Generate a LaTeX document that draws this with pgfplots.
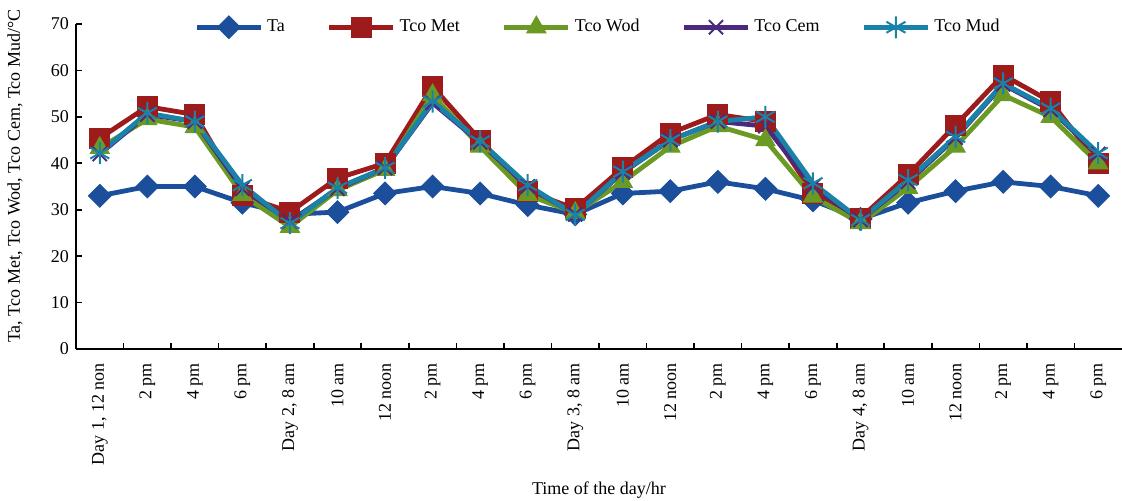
\documentclass[border=0pt]{standalone}
\usepackage{fontspec}
\setmainfont{Liberation Serif}
\usepackage{pgfplots}
\usepackage{pgfplotstable}
\pgfplotsset{compat=1.18}
\definecolor{cTa}{HTML}{1B4F9C}
\definecolor{cMet}{HTML}{9E1B1B}
\definecolor{cWod}{HTML}{6A9A23}
\definecolor{cCem}{HTML}{4A2A7E}
\definecolor{cMud}{HTML}{1A82A8}
\pgfplotstableread{
x Ta Met Wod Cem Mud
0 33 45.4 43.3 42 42.2
1 35 52.2 49.5 50.5 50.8
2 35 50.5 47.8 49 49
3 31.5 33 33.2 34.5 35.3
4 29 29.5 26.3 27.5 27.1
5 29.5 36.8 34.2 34.5 34.7
6 33.5 40 38.6 39 39
7 35 56.5 54.7 53 53.3
8 33.5 45 43.6 44.5 44.7
9 31 34 33.2 35 35.3
10 29 30.2 29.3 29 28.9
11 33.5 39 36 38 38.2
12 34 46.5 43.6 45 45
13 36 50.5 48 49 49
14 34.5 49 45 48 50
15 32 33.6 32.8 35 35.7
16 28 28.2 27.1 27.8 27.8
17 31.5 37.5 34.7 36 36.4
18 34 48.2 43.6 45.5 45.7
19 36 59 54.7 57 57.2
20 35 53.3 50 51.5 51.8
21 33 40 40 42 42.2
}\datatable
\begin{document}
\begin{tikzpicture}[font=\fontsize{9}{10.5}\selectfont]
\begin{axis}[name=ax, at={(0,0)}, anchor=south west,
  scale only axis, width=523pt, height=162.5pt,
  xmin=-0.5, xmax=21.5, ymin=0, ymax=70,
  axis lines=left, axis line style={-, line width=0.8pt, black},
  tick align=inside, major tick length=3pt,
  every tick/.style={black, line width=0.8pt},
  ytick={0,10,...,70},
  /pgf/number format/assume math mode=true,
  xtick={0.5,1.5,...,20.5}, xticklabels={},
  extra x ticks={0,...,21},
  extra x tick labels={Day 1{,} 12 non,2 pm,4 pm,6 pm,Day 2{,} 8 am,10 am,12 noon,2 pm,4 pm,6 pm,Day 3{,} 8 am,10 am,12 noon,2 pm,4 pm,6 pm,Day 4{,} 8 am,10 am,12 noon,2 pm,4 pm,6 pm},
  extra x tick style={major tick length=0pt, xticklabel style={rotate=90, anchor=east, inner sep=0pt, xshift=-7pt}},
  xlabel={Time of the day/hr},
  xlabel style={at={(axis description cs:0.5,-0.434)}, anchor=center},
  ylabel={Ta, Tco Met, Tco Wod, Tco Cem, Tco Mud/°C},
  ylabel style={at={(axis description cs:-0.0583,0.532)}, anchor=center, rotate=0},
  legend columns=5,
  legend cell align=left,
  legend style={draw=none, fill=none, at={(axis description cs:0.5,0.99)}, anchor=center,
    font=\fontsize{9}{10.5}\selectfont,
    /tikz/every odd column/.append style={column sep=0pt},
    /tikz/every even column/.append style={column sep=19pt}},
  legend image code/.code={\draw[mark repeat=2,mark phase=2] plot coordinates {(0pt,0pt) (16pt,0pt) (32pt,0pt)};},
  clip=false,
]
\addplot[color=cTa, line width=2.4pt, mark=square*, mark size=4pt, mark options={rotate=45, line width=0.5pt}] table[x=x, y=Ta] {\datatable};
\addlegendentry{Ta}
\addplot[color=cMet, line width=2.4pt, mark=square*, mark size=5pt, mark options={line width=0.5pt}] table[x=x, y=Met] {\datatable};
\addlegendentry{Tco Met}
\addplot[color=cWod, line width=2.4pt, mark=triangle*, mark size=5.5pt, mark options={line width=0.5pt}] table[x=x, y=Wod] {\datatable};
\addlegendentry{Tco Wod}
\addplot[color=cCem, line width=2.4pt, mark=x, mark size=5pt, mark options={line width=1pt}] table[x=x, y=Cem] {\datatable};
\addlegendentry{Tco Cem}
\addplot[color=cMud, line width=2.4pt, mark=asterisk, mark size=5.5pt, mark options={line width=1pt}] table[x=x, y=Mud] {\datatable};
\addlegendentry{Tco Mud}
\end{axis}
\pgfresetboundingbox
\path[use as bounding box] ([xshift=-38pt,yshift=-76pt]ax.south west) rectangle ([xshift=523pt,yshift=174.5pt]ax.south west);
\end{tikzpicture}
\end{document}
